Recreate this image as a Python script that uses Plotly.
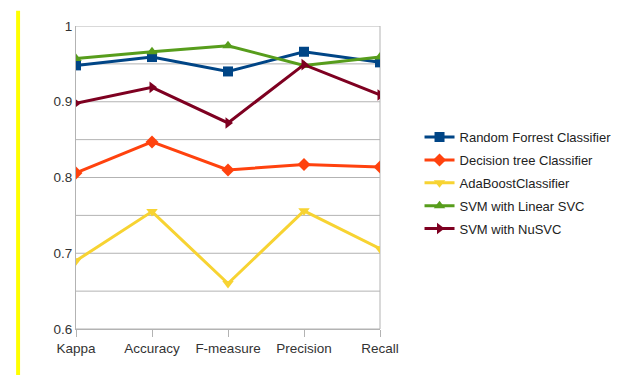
import plotly.graph_objects as go

# Evaluation metrics on the horizontal axis
metrics = ["Kappa", "Accuracy", "F-measure", "Precision", "Recall"]

# Scores per classifier
random_forest = [0.948, 0.959, 0.940, 0.966, 0.952]
decision_tree = [0.806, 0.847, 0.810, 0.817, 0.814]
adaboost = [0.690, 0.755, 0.660, 0.756, 0.706]
svm_linear = [0.957, 0.966, 0.974, 0.948, 0.959]
svm_nusvc = [0.898, 0.919, 0.872, 0.949, 0.909]

y_ticks = [0.6, 0.7, 0.8, 0.9, 1.0]
y_tick_labels = ["0.6", "0.7", "0.8", "0.9", "1"]

series = [
    ("Random Forrest Classifier", random_forest, "#004586", "square"),
    ("Decision tree Classifier", decision_tree, "#ff420e", "diamond"),
    ("AdaBoostClassifier", adaboost, "#f7d332", "triangle-down"),
    ("SVM with Linear SVC", svm_linear, "#579d1c", "triangle-up"),
    ("SVM with NuSVC", svm_nusvc, "#7e0021", "triangle-right"),
]

fig = go.Figure()
for name, vals, color, symbol in series:
    fig.add_trace(go.Scatter(
        x=metrics, y=vals, name=name, mode="lines+markers", legendgroup=name,
        line=dict(color=color, width=3),
        marker=dict(symbol=symbol, size=10, color=color),
    ))

# Yellow accent bar along the left edge
fig.add_shape(type="rect", xref="paper", yref="paper",
              x0=-0.197, x1=-0.184, y0=-0.152, y1=1.05,
              fillcolor="#ffff00", line=dict(width=0), layer="above")

fig.update_layout(
    width=622, height=376,
    margin=dict(l=76, r=242, t=26, b=47, autoexpand=False),
    paper_bgcolor="white", plot_bgcolor="white",
    font=dict(family="Liberation Sans, Arial, sans-serif", size=13, color="#333333"),
    showlegend=True,
    legend=dict(x=1.13, y=0.683, xanchor="left", yanchor="top",
                font=dict(size=13, color="#222222"),
                tracegroupgap=3, itemwidth=30),
    xaxis=dict(type="category", range=[0, 4], showgrid=False,
               showline=True, linecolor="#b3b3b3", linewidth=1, mirror=False,
               ticks="outside", ticklen=7, tickcolor="#b3b3b3",
               tickfont=dict(size=13.5, color="#333333")),
    yaxis=dict(range=[0.6, 1.0], tickvals=y_ticks, ticktext=y_tick_labels,
               showgrid=False, showline=True, linecolor="#b3b3b3", linewidth=1,
               zeroline=False, tickfont=dict(size=13.5, color="#333333")),
)

# Horizontal grid every 0.05 and right frame edge
for g in [0.6, 0.65, 0.7, 0.75, 0.8, 0.85, 0.9, 0.95, 1.0]:
    fig.add_shape(type="line", xref="paper", yref="y", x0=0, x1=1, y0=g, y1=g,
                  line=dict(color="#b3b3b3", width=1), layer="below")
fig.add_shape(type="line", xref="paper", yref="paper", x0=1, x1=1, y0=0, y1=1,
              line=dict(color="#b3b3b3", width=1), layer="below")

fig.write_html("out.html")
